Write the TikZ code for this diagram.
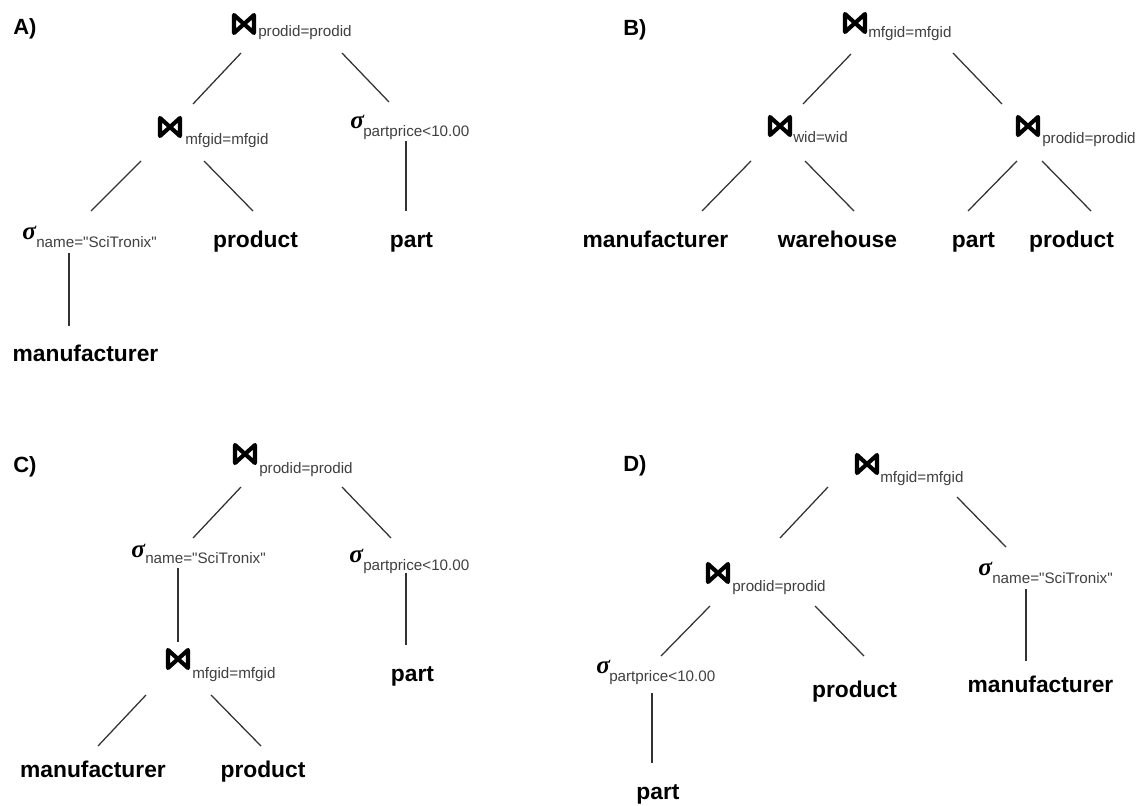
\documentclass[tikz,border=0pt]{standalone}
\usepackage{fontspec}
\setmainfont{Liberation Sans}
\newfontfamily\subfont{Liberation Sans}
\newfontfamily\sigfont{Liberation Serif}
\tikzset{
  edge/.style={line width=0.95pt, draw=black!80},
  leaf/.style={inner sep=0pt, anchor=base, font=\fontsize{17.1pt}{20pt}\selectfont\bfseries},
  subs/.style={inner sep=0pt, anchor=base west, text=black!75, font=\subfont\fontsize{11.4pt}{13pt}\selectfont},
  sig/.style={inner sep=0pt, anchor=base west, font=\sigfont\fontsize{19pt}{21pt}\selectfont\bfseries\itshape},
  lbl/.style={inner sep=0pt, anchor=base west, font=\fontsize{16.5pt}{19pt}\selectfont\bfseries},
  bowtie/.pic={\draw[line width=3.1pt, line join=round, line cap=round] (-10,-9)--(10,9)--(10,-9)--(-10,9)--cycle;}
}
\begin{document}
\begin{tikzpicture}[x=0.75pt,y=-0.75pt]
\useasboundingbox (0,0) rectangle (1140,806);
\fill[white] (0,0) rectangle (1140,806);

% ---------------- A ----------------
\node[lbl] (aL) at (13,35) {A)};
\pic at (244,24) {bowtie};
\node[subs] (aRs) at (258,37) {prodid=prodid};
\pic at (170,127) {bowtie};
\node[subs] (aJs) at (185,145) {mfgid=mfgid};
\node[sig] (aPs) at (350,129) {σ};
\node[subs] (aPt) at (363,137) {partprice<10.00};
\node[sig] (aNs) at (22,240) {σ};
\node[subs] (aNt) at (36,248) {name="SciTronix"};
\node[leaf] (aProd) at (255.5,248) {product};
\node[leaf] (aPart) at (411.5,248) {part};
\node[leaf] (aMan) at (85.5,362) {manufacturer};
\coordinate (a1) at (241,53);  \coordinate (a2) at (193,104);
\coordinate (a3) at (342,53);  \coordinate (a4) at (389,102);
\coordinate (a5) at (141,161); \coordinate (a6) at (91,211);
\coordinate (a7) at (204,161); \coordinate (a8) at (253,211);
\coordinate (a9) at (406,141); \coordinate (a10) at (406,211);
\coordinate (a11) at (69,253); \coordinate (a12) at (69,326);
\draw[edge] (a1) -- (a2);
\draw[edge] (a3) -- (a4);
\draw[edge] (a5) -- (a6);
\draw[edge] (a7) -- (a8);
\draw[edge] (a9) -- (a10);
\draw[edge] (a11) -- (a12);

% ---------------- B ----------------
\node[lbl] (bL) at (623,36) {B)};
\pic at (855,23) {bowtie};
\node[subs] (bRs) at (868,38) {mfgid=mfgid};
\pic at (780,126) {bowtie};
\node[subs] (bWs) at (793,143) {wid=wid};
\pic at (1028,126) {bowtie};
\node[subs] (bPs) at (1042,144) {prodid=prodid};
\node[leaf] (bMan) at (655.5,248) {manufacturer};
\node[leaf] (bWare) at (837.5,248) {warehouse};
\node[leaf] (bPart) at (973.5,248) {part};
\node[leaf] (bProd) at (1071.5,248) {product};
\coordinate (b1) at (851,54);   \coordinate (b2) at (803,104);
\coordinate (b3) at (953,53);   \coordinate (b4) at (1002,104);
\coordinate (b5) at (751,161);  \coordinate (b6) at (702,211);
\coordinate (b7) at (805,161);  \coordinate (b8) at (854,211);
\coordinate (b9) at (1017,161); \coordinate (b10) at (968,211);
\coordinate (b11) at (1042,161);\coordinate (b12) at (1091,211);
\draw[edge] (b1) -- (b2);
\draw[edge] (b3) -- (b4);
\draw[edge] (b5) -- (b6);
\draw[edge] (b7) -- (b8);
\draw[edge] (b9) -- (b10);
\draw[edge] (b11) -- (b12);

% ---------------- C ----------------
\node[lbl] (cL) at (13,472) {C)};
\pic at (245,454) {bowtie};
\node[subs] (cRs) at (259,473) {prodid=prodid};
\node[sig] (cNs) at (131,557) {σ};
\node[subs] (cNt) at (145,563) {name="SciTronix"};
\node[sig] (cPs) at (349,562) {σ};
\node[subs] (cPt) at (363,570) {partprice<10.00};
\pic at (178,659) {bowtie};
\node[subs] (cJs) at (192,678) {mfgid=mfgid};
\node[leaf] (cPart) at (412.5,681) {part};
\node[leaf] (cMan) at (93,777) {manufacturer};
\node[leaf] (cProd) at (263,777) {product};
\coordinate (c1) at (241,487);  \coordinate (c2) at (193,538);
\coordinate (c3) at (342,487);  \coordinate (c4) at (391,538);
\coordinate (c5) at (178,568);  \coordinate (c6) at (178,642);
\coordinate (c7) at (146,695);  \coordinate (c8) at (98,746);
\coordinate (c9) at (211,695);  \coordinate (c10) at (261,746);
\coordinate (c11) at (406,573); \coordinate (c12) at (406,645);
\draw[edge] (c1) -- (c2);
\draw[edge] (c3) -- (c4);
\draw[edge] (c5) -- (c6);
\draw[edge] (c7) -- (c8);
\draw[edge] (c9) -- (c10);
\draw[edge] (c11) -- (c12);

% ---------------- D ----------------
\node[lbl] (dL) at (623,471) {D)};
\pic at (867,464) {bowtie};
\node[subs] (dRs) at (880,482) {mfgid=mfgid};
\pic at (718,573) {bowtie};
\node[subs] (dJs) at (732,591) {prodid=prodid};
\node[sig] (dPs) at (596,673) {σ};
\node[subs] (dPt) at (609,681) {partprice<10.00};
\node[sig] (dNs) at (978,575) {σ};
\node[subs] (dNt) at (992,583) {name="SciTronix"};
\node[leaf] (dProd) at (854.5,697) {product};
\node[leaf] (dMan) at (1040.5,692) {manufacturer};
\node[leaf] (dPart) at (658,799) {part};
\coordinate (d1) at (828,487);  \coordinate (d2) at (780,538);
\coordinate (d3) at (957,497);  \coordinate (d4) at (1006,547);
\coordinate (d5) at (710,606);  \coordinate (d6) at (661,656);
\coordinate (d7) at (815,606);  \coordinate (d8) at (864,656);
\coordinate (d9) at (652,693);  \coordinate (d10) at (652,763);
\coordinate (d11) at (1026,589);\coordinate (d12) at (1026,661);
\draw[edge] (d1) -- (d2);
\draw[edge] (d3) -- (d4);
\draw[edge] (d5) -- (d6);
\draw[edge] (d7) -- (d8);
\draw[edge] (d9) -- (d10);
\draw[edge] (d11) -- (d12);
\end{tikzpicture}
\end{document}
